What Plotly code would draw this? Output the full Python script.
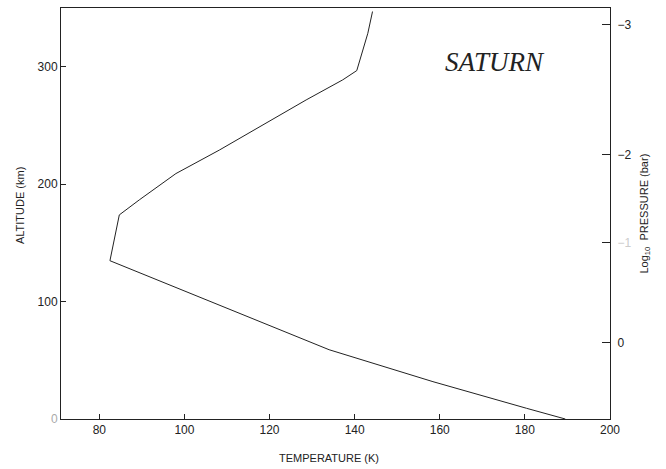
import plotly.graph_objects as go

# Temperature profile (K) vs altitude (km)
temperature = [189.5, 180.4, 158.4, 134.0, 82.5, 84.7, 89.4, 98.0, 108.2, 128.6, 137.2, 140.5, 143.1, 144.2]
altitude = [0.0, 9.1, 31.8, 59.0, 134.8, 173.8, 186.6, 209.0, 229.0, 271.7, 288.8, 296.7, 328.5, 347.0]

x_ticks = [80, 100, 120, 140, 160, 180, 200]
y_ticks = [0, 100, 200, 300]
y_labels = ["<span style='color:#aaa'>0</span>", "100", "200", "300"]

# Right axis: log10 pressure (bar) at corresponding altitudes
pressure_alt = [65, 150, 225, 336]
pressure_labels = ["0", "<span style='color:#ccc'>−1</span>", "−2", "−3"]

fig = go.Figure()
fig.add_trace(go.Scatter(
    x=temperature, y=altitude, mode="lines",
    line=dict(color="#222", width=1), showlegend=False, hoverinfo="skip"))
# invisible trace for right axis
fig.add_trace(go.Scatter(x=[150], y=[100], yaxis="y2", mode="markers",
                         marker=dict(opacity=0), showlegend=False, hoverinfo="skip"))

font = "Liberation Sans, Arial, sans-serif"
fig.update_layout(
    width=666, height=469,
    margin=dict(l=61, r=56, t=8, b=50),
    paper_bgcolor="white", plot_bgcolor="white",
    font=dict(family=font, size=12, color="#222"),
    xaxis=dict(range=[71, 200], tickvals=x_ticks, ticks="inside", ticklen=5,
               tickcolor="#222", showline=True, linecolor="#222", linewidth=1,
               mirror=True, showgrid=False, zeroline=False,
               tickfont=dict(size=12, color="#222")),
    yaxis=dict(range=[0, 350], tickvals=y_ticks, ticktext=y_labels, ticks="inside", ticklen=5,
               tickcolor="#222", showline=True, linecolor="#222", linewidth=1,
               showgrid=False, zeroline=False, tickfont=dict(size=12, color="#222")),
    yaxis2=dict(range=[0, 350], overlaying="y", side="right", tickvals=pressure_alt,
                ticktext=pressure_labels, ticks="inside", ticklen=8, tickcolor="#222",
                showline=True, linecolor="#222", linewidth=1, showgrid=False,
                zeroline=False, tickfont=dict(size=12, color="#222"),
                ticklabelstandoff=4),
    annotations=[
        dict(text="ALTITUDE (km)", x=-0.075, y=0.52, xref="paper", yref="paper",
             xanchor="center", yanchor="middle", textangle=-90, showarrow=False,
             font=dict(size=11)),
        dict(text="TEMPERATURE (K)", x=0.488, y=-0.095, xref="paper", yref="paper",
             xanchor="center", yanchor="middle", showarrow=False, font=dict(size=11)),
        dict(text="Log<sub>10</sub>  PRESSURE (bar)", x=1.062, y=0.5, xref="paper", yref="paper",
             xanchor="center", yanchor="middle", textangle=-90, showarrow=False,
             font=dict(size=11)),
        dict(text="<i>SATURN</i>", x=0.79, y=0.869, xref="paper", yref="paper",
             xanchor="center", yanchor="middle", showarrow=False,
             font=dict(family="Liberation Serif, Times New Roman, serif", size=27, color="#222")),
    ],
)

fig.write_html("out.html")
